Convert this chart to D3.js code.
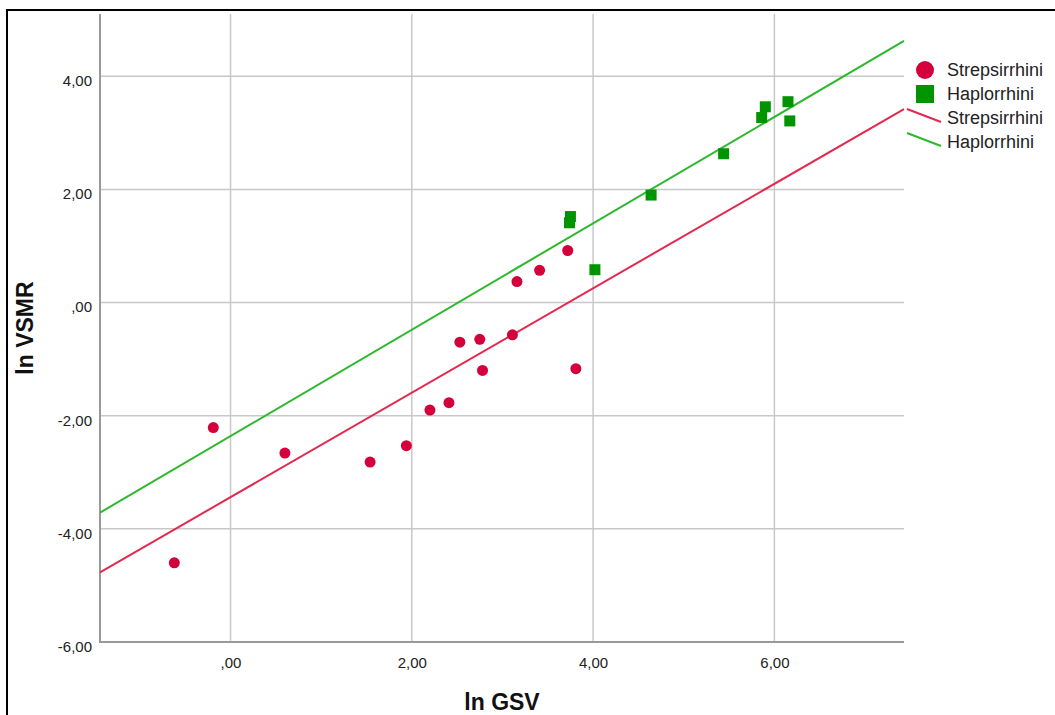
<!DOCTYPE html>
<html>
<head>
<meta charset="utf-8">
<script src="https://cdn.jsdelivr.net/npm/d3@7"></script>
<style>
  html, body { margin: 0; padding: 0; background: #fff; }
  svg { display: block; font-family: "Liberation Sans", Arial, sans-serif; }
</style>
</head>
<body>
<svg id="chart" width="1055" height="715"></svg>
<script>
// ln GSV / ln VSMR by group
const groups = ["Strepsirrhini", "Haplorrhini"];

const strepX = [-0.62, -0.19, 0.60, 1.54, 1.94, 2.20, 2.41, 2.53, 2.75, 2.78, 3.11, 3.16, 3.41, 3.72, 3.81];
const strepY = [-4.60, -2.21, -2.66, -2.82, -2.53, -1.90, -1.77, -0.70, -0.65, -1.20, -0.57, 0.37, 0.57, 0.92, -1.17];

const haploX = [3.75, 3.74, 4.02, 4.64, 5.44, 5.86, 5.90, 6.15, 6.17];
const haploY = [1.52, 1.41, 0.58, 1.90, 2.63, 3.27, 3.46, 3.55, 3.21];

// Group fit lines: y = intercept + slope * x
const fitIntercepts = [-3.44, -2.36];
const fitSlopes = [0.923, 0.940];

const xTicks = [0, 2, 4, 6];
const yTicks = [-6, -4, -2, 0, 2, 4];
const xDomain = [-1.44, 7.43];
const yDomain = [-6, 5.1];

const xTitle = "ln GSV";
const yTitle = "ln VSMR";

const colors = {
  Strepsirrhini: { mark: "#d4003b", line: "#e3294f" },
  Haplorrhini: { mark: "#009500", line: "#2db82d" }
};

const svg = d3.select("#chart");
const plot = { left: 100, right: 904, top: 14, bottom: 642 };

const x = d3.scaleLinear().domain(xDomain).range([plot.left, plot.right]);
const y = d3.scaleLinear().domain(yDomain).range([plot.bottom, plot.top]);

const fmt = d => {
  if (d === 0) return ",00";
  return (d < 0 ? "-" : "") + Math.abs(d).toFixed(2).replace(".", ",");
};

// outer frame
svg.append("rect")
  .attr("x", 7).attr("y", 10)
  .attr("width", 1100).attr("height", 800)
  .attr("fill", "none").attr("stroke", "#000").attr("stroke-width", 2);

// grid
const grid = svg.append("g");
grid.selectAll("line.v").data(xTicks).join("line")
  .attr("x1", d => x(d)).attr("x2", d => x(d))
  .attr("y1", plot.top).attr("y2", plot.bottom)
  .attr("stroke", "#c8c8c8").attr("stroke-width", 1.5);
grid.selectAll("line.h").data(yTicks).join("line")
  .attr("x1", plot.left).attr("x2", plot.right)
  .attr("y1", d => y(d)).attr("y2", d => y(d))
  .attr("stroke", "#c8c8c8").attr("stroke-width", 1.5);

// axes
const xAxis = d3.axisBottom(x).tickValues(xTicks).tickFormat(fmt).tickSize(0).tickPadding(15);
const yAxis = d3.axisLeft(y).tickValues(yTicks).tickFormat(fmt).tickSize(0).tickPadding(8);

const gx = svg.append("g").attr("transform", `translate(0,${plot.bottom})`).call(xAxis);
const gy = svg.append("g").attr("transform", `translate(${plot.left},0)`).call(yAxis);
[gx, gy].forEach(g => {
  g.select(".domain").remove();
  g.selectAll("text").attr("font-size", 15).attr("fill", "#222")
    .attr("font-family", "Liberation Sans, Arial, sans-serif");
});
gy.selectAll("text").attr("dy", "0.62em").attr("y", 0);

svg.append("line")
  .attr("x1", plot.left).attr("x2", plot.left)
  .attr("y1", plot.top).attr("y2", plot.bottom + 1)
  .attr("stroke", "#999").attr("stroke-width", 2);
svg.append("line")
  .attr("x1", plot.left - 1).attr("x2", plot.right)
  .attr("y1", plot.bottom).attr("y2", plot.bottom)
  .attr("stroke", "#999").attr("stroke-width", 2);

// axis titles
svg.append("text")
  .attr("x", (plot.left + plot.right) / 2).attr("y", 710)
  .attr("text-anchor", "middle").attr("font-size", 23).attr("font-weight", "bold")
  .attr("fill", "#111").text(xTitle);
svg.append("text")
  .attr("transform", `translate(33,${(plot.top + plot.bottom) / 2}) rotate(-90)`)
  .attr("text-anchor", "middle").attr("font-size", 23).attr("font-weight", "bold")
  .attr("fill", "#111").text(yTitle);

// fit lines
const fits = svg.append("g");
groups.forEach((g, i) => {
  const f = v => fitIntercepts[i] + fitSlopes[i] * v;
  fits.append("line")
    .attr("x1", x(xDomain[0])).attr("y1", y(f(xDomain[0])))
    .attr("x2", x(xDomain[1])).attr("y2", y(f(xDomain[1])))
    .attr("stroke", colors[g].line).attr("stroke-width", 2);
});

// points
const strep = d3.zip(strepX, strepY);
const haplo = d3.zip(haploX, haploY);

svg.append("g").selectAll("circle").data(strep).join("circle")
  .attr("cx", d => x(d[0])).attr("cy", d => y(d[1]))
  .attr("r", 5.5).attr("fill", colors.Strepsirrhini.mark);

const sq = 11;
svg.append("g").selectAll("rect").data(haplo).join("rect")
  .attr("x", d => x(d[0]) - sq / 2).attr("y", d => y(d[1]) - sq / 2)
  .attr("width", sq).attr("height", sq).attr("fill", colors.Haplorrhini.mark);

// legend
const lg = svg.append("g").attr("font-size", 18).attr("fill", "#222");
const lx = 925, ly0 = 70, step = 24;
lg.append("circle").attr("cx", lx).attr("cy", ly0).attr("r", 9)
  .attr("fill", colors.Strepsirrhini.mark);
lg.append("rect").attr("x", lx - 9).attr("y", ly0 + step - 9)
  .attr("width", 18).attr("height", 18).attr("fill", colors.Haplorrhini.mark);
groups.forEach((g, i) => {
  const cy = ly0 + step * (i + 2);
  lg.append("line")
    .attr("x1", 907).attr("y1", cy - 9).attr("x2", 941).attr("y2", cy + 4)
    .attr("stroke", colors[g].line).attr("stroke-width", 2);
});
[...groups, ...groups].forEach((g, i) => {
  lg.append("text").attr("x", 947).attr("y", ly0 + step * i)
    .attr("dy", "0.36em").text(g);
});
</script>
</body>
</html>
